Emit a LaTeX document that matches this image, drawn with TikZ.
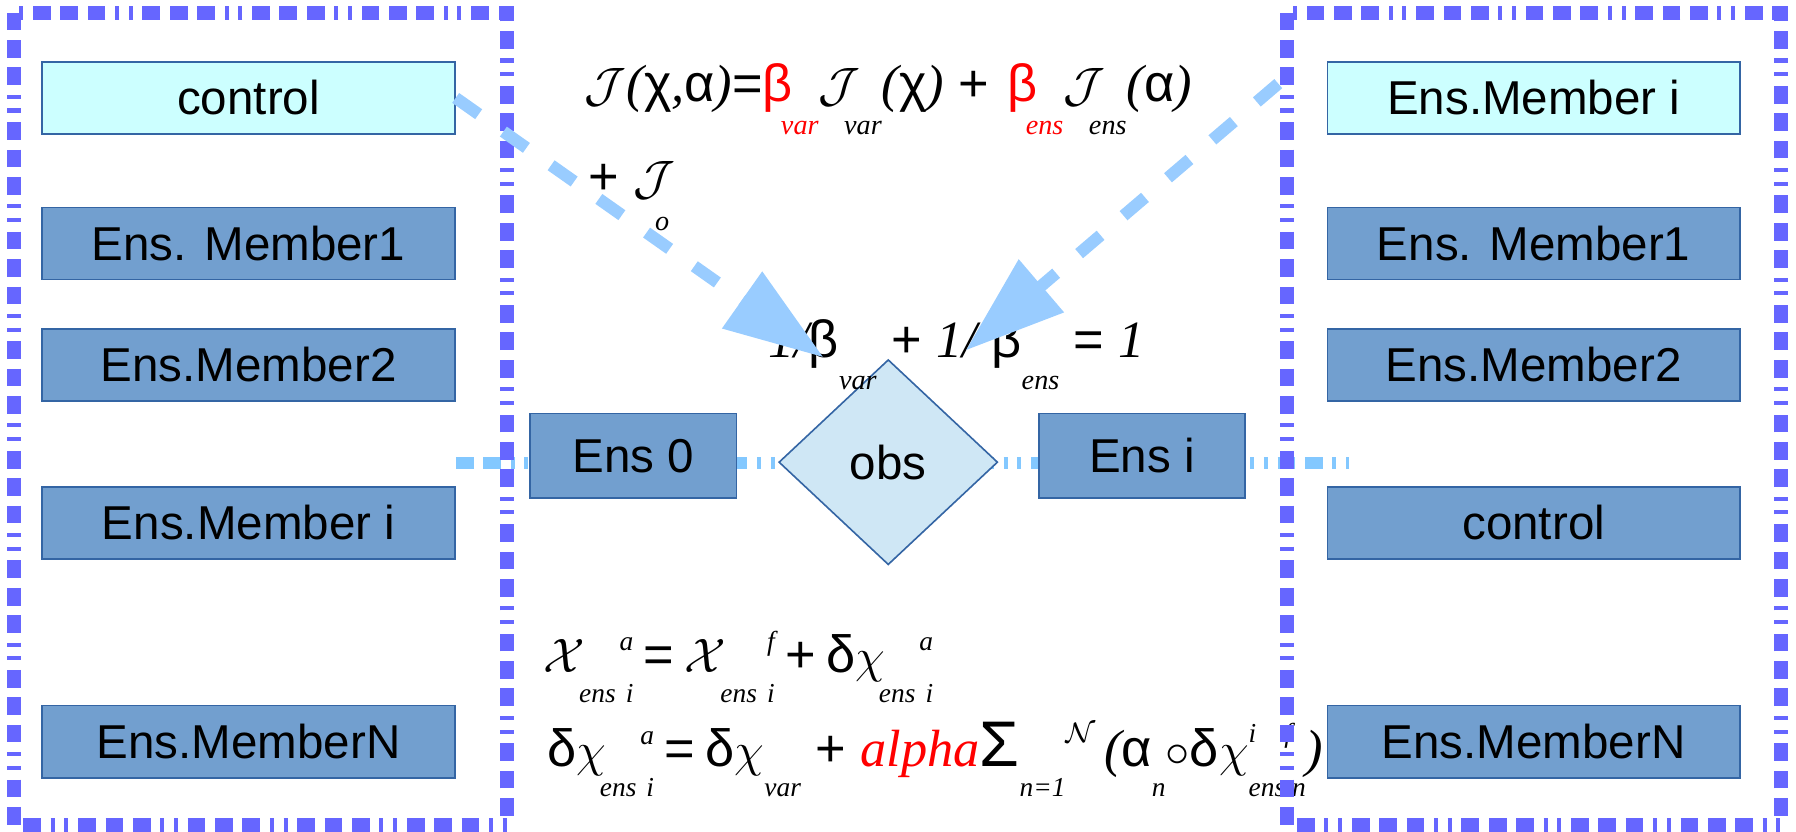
\documentclass[tikz,border=0pt]{standalone}
\usepackage{fontspec}
\setmainfont{Liberation Sans}
\newfontfamily\serfam{Liberation Serif}
\usetikzlibrary{shapes.geometric,arrows.meta}

\definecolor{frameblue}{RGB}{102,102,255}
\definecolor{arrowblue}{RGB}{153,204,255}
\definecolor{lineblue}{RGB}{131,200,255}
\definecolor{steel}{RGB}{114,159,207}
\definecolor{boxline}{RGB}{52,101,164}
\definecolor{palecyan}{RGB}{204,255,255}
\definecolor{obsfill}{RGB}{207,231,245}

\newcommand{\fbig}{\fontsize{13}{16}\selectfont}
\newcommand{\fsub}{\fontsize{7}{9}\selectfont\serfam\itshape}
\newcommand{\fsubsm}{\fontsize{6.8}{8}\selectfont\serfam\itshape}
\newcommand{\fit}{\serfam\itshape}
\newcommand{\lowtxt}[1]{\raisebox{-8pt}{\fsub #1}}
\newcommand{\lowsm}[1]{\raisebox{-7.5pt}{\fsubsm #1}}
\newcommand{\hightxt}[1]{\raisebox{6pt}{\fsubsm #1}}
\newcommand{\stacktxt}[2]{\hspace{-1.5pt}\raisebox{-7.5pt}{\fsubsm #1}\llap{\raisebox{5.5pt}{\fsubsm #2}}}
\newcommand{\sep}{\hspace{2.6pt}}

\begin{document}
\begin{tikzpicture}[x=0.01cm,y=-0.01cm]
        \tikzstyle{every node}=[font=\fontsize{11.8}{14}\selectfont]
        \tikzstyle{member}=[draw=boxline, fill=steel, minimum width=3.6cm, minimum height=0.63cm, inner sep=0pt]
        \tikzstyle{ctrl}=[member, fill=palecyan]
        \tikzstyle{ens}=[member, minimum width=1.8cm, minimum height=0.74cm]
        \tikzstyle{frame}=[draw=frameblue, line width=3.5pt,
            dash pattern=on 4.4pt off 2.4pt on 4.4pt off 2.4pt on 4.4pt off 2.4pt on 1pt off 2.4pt on 1pt off 2.4pt]
        \tikzstyle{hline}=[draw=lineblue, line width=3.1pt,
            dash pattern=on 4.4pt off 2.4pt on 4.4pt off 2.4pt on 1pt off 2.4pt on 1pt off 2.4pt]
        \tikzstyle{flow}=[draw=arrowblue, line width=3pt, dash pattern=on 7pt off 7.5pt,
            -{Triangle[length=8.7mm,width=5.8mm]}]
        \tikzstyle{formula}=[anchor=base west, inner sep=0pt, font=\fbig]
        \useasboundingbox (0,0) rectangle (1568,726);

        \coordinate (hl) at (398,404);
        \coordinate (hr) at (1178,404);
        \draw[hline] (hl) -- (hr);

        \node[ctrl] (lctrl) at (217,85.5) {control};
        \node[member] (lmem1) at (217,212.5) {Ens. Member1};
        \node[member] (lmem2) at (217,318.5) {Ens.Member2};
        \node[member] (lmemi) at (217,456.5) {Ens.Member i};
        \node[member] (lmemN) at (217,647.5) {Ens.MemberN};

        \node[ctrl] (rmemi) at (1339,85.5) {Ens.Member i};
        \node[member] (rmem1) at (1339,212.5) {Ens. Member1};
        \node[member] (rmem2) at (1339,318.5) {Ens.Member2};
        \node[member] (rctrl) at (1339,456.5) {control};
        \node[member] (rmemN) at (1339,647.5) {Ens.MemberN};

        \node[ens] (ens0) at (553,398) {Ens 0};
        \node[ens] (ensi) at (997,398) {Ens i};
        \node[diamond, draw=boxline, fill=obsfill, minimum width=1.91cm, minimum height=1.79cm, inner sep=0pt] (obs) at (775.5,403.5) {obs};

        % cost function
        \node[formula] (cost) at (510,89) {$\mathcal{J}${\fit(}χ{\fit,}α{\fit)}=\textcolor{red}{β}\hspace{-3pt}\lowtxt{\textcolor{red}{var}}$\mathcal{J}$\hspace{-4pt}\lowtxt{var}{\fit(}χ{\fit)} + \hspace{1pt}\textcolor{red}{β}\hspace{-3pt}\lowtxt{\textcolor{red}{ens}}$\mathcal{J}$\hspace{-4pt}\lowtxt{ens}{\fit(}α{\fit)}};
        \node[formula] (costobs) at (513,170) {+ $\mathcal{J}$\hspace{-5pt}\raisebox{-9pt}{\fsub o}};
        \node[formula] (weights) at (670,312) {{\fit 1/}β\lowtxt{var} + {\fit 1/} β\lowtxt{ens} = {\fit 1}};
        % update
        \node[formula] (upd) at (474,587) {$\mathcal{X}$\stacktxt{ens\hspace{2.5pt}i}{a}\sep=\sep$\mathcal{X}$\stacktxt{ens\hspace{2.5pt}i}{f}\sep+\sep δ$\chi$\stacktxt{ens\hspace{2.5pt}i}{a}};
        \node[formula] (incr) at (477,669) {δ$\chi$\stacktxt{ens\hspace{2.5pt}i}{a}\sep=\sep δ$\chi$\lowsm{var} + {\fontsize{13}{15}\selectfont\fit\color{red}alpha}{\fontsize{16}{16}\selectfont Σ}\lowsm{n=1}\hightxt{$\mathcal{N}$}\hspace{2pt}{\fit(}α\lowsm{n}$\circ$δ$\chi$\rlap{\hightxt{i\hspace{7pt}f}}\lowsm{ens n}{\fit)}};

        \draw[frame] (12,11) rectangle (443,720);
        \draw[frame] (1124,11) rectangle (1555,720);

        %gradients
        \coordinate (tipL) at (719,312);
        \coordinate (startR) at (1116,73);
        \coordinate (tipR) at (843,306);
        \draw[flow] (lctrl.east) -- (tipL);
        \draw[flow] (startR) -- (tipR);
\end{tikzpicture}
\end{document}
